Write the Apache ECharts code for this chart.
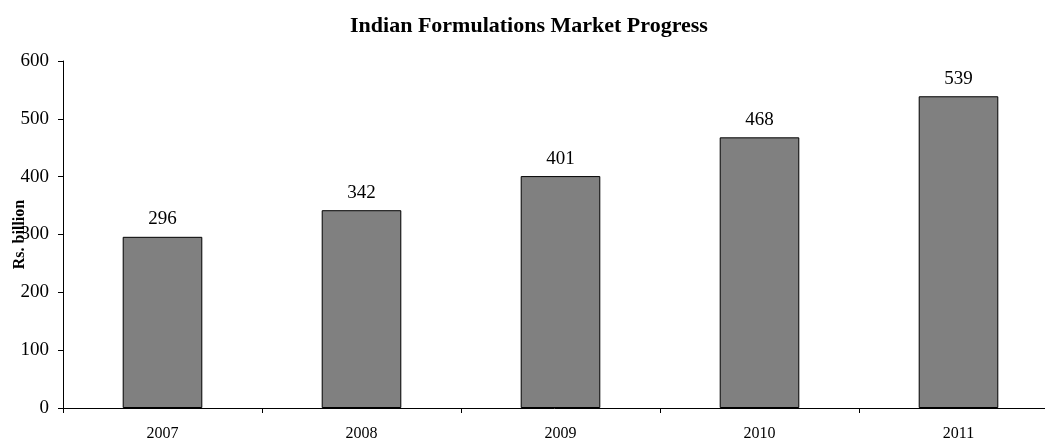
<!DOCTYPE html>
<html>
	<head>
		<meta charset="utf-8">
		<title></title>
		<style>
			html,
			body {
				margin: 0;
				height: 100%;
				background-color: white;
			}
		</style>
	</head>
	<body>
		<div id="main" style="width: 1045px;height:440px;"></div>
		<script src="https://cdn.jsdelivr.net/npm/echarts@6/dist/echarts.min.js"></script>
		<script>
			var years = ['2007', '2008', '2009', '2010', '2011'];
			var marketSize = [296, 342, 401, 468, 539];
			var yTicks = [0, 100, 200, 300, 400, 500, 600];

			var serif = '"Liberation Serif", "DejaVu Serif", serif';
			var myChart = echarts.init(document.getElementById('main'));
			var option = {
				animation: false,
				title: {
					text: 'Indian Formulations Market Progress',
					left: 345,
					top: 10,
					textStyle: {
						fontFamily: serif,
						fontSize: 22,
						fontWeight: 'bold',
						color: '#000'
					}
				},
				grid: {
					left: 63,
					right: -13,
					top: 61,
					bottom: 32,
					outerBoundsMode: 'none'
				},
				xAxis: [{
					type: 'category',
					data: years,
					axisLine: {
						lineStyle: { color: '#000', width: 1 }
					},
					axisTick: {
						show: true,
						length: 5,
						lineStyle: { color: '#000' }
					},
					axisLabel: {
						fontFamily: serif,
						fontSize: 16,
						color: '#000',
						margin: 18
					}
				}],
				yAxis: [{
					type: 'value',
					min: yTicks[0],
					max: yTicks[yTicks.length - 1],
					interval: 100,
					name: 'Rs. billion',
					nameLocation: 'middle',
					nameGap: 35,
					nameMoveOverlap: false,
					nameTextStyle: {
						fontFamily: serif,
						fontSize: 16,
						fontWeight: 'bold',
						color: '#000'
					},
					axisLine: {
						show: true,
						lineStyle: { color: '#000', width: 1 }
					},
					axisTick: {
						show: true,
						length: 5,
						lineStyle: { color: '#000' }
					},
					splitLine: { show: false },
					axisLabel: {
						fontFamily: serif,
						fontSize: 19,
						color: '#000',
						margin: 14
					}
				}],
				series: [{
					name: 'Market',
					type: 'bar',
					data: marketSize,
					barWidth: '40%',
					itemStyle: {
						color: '#808080',
						borderColor: '#000',
						borderWidth: 1
					},
					label: {
						show: true,
						position: 'top',
						distance: 8,
						fontFamily: serif,
						fontSize: 19,
						color: '#000'
					}
				}]
			};
			myChart.setOption(option);
		</script>
	</body>
</html>
